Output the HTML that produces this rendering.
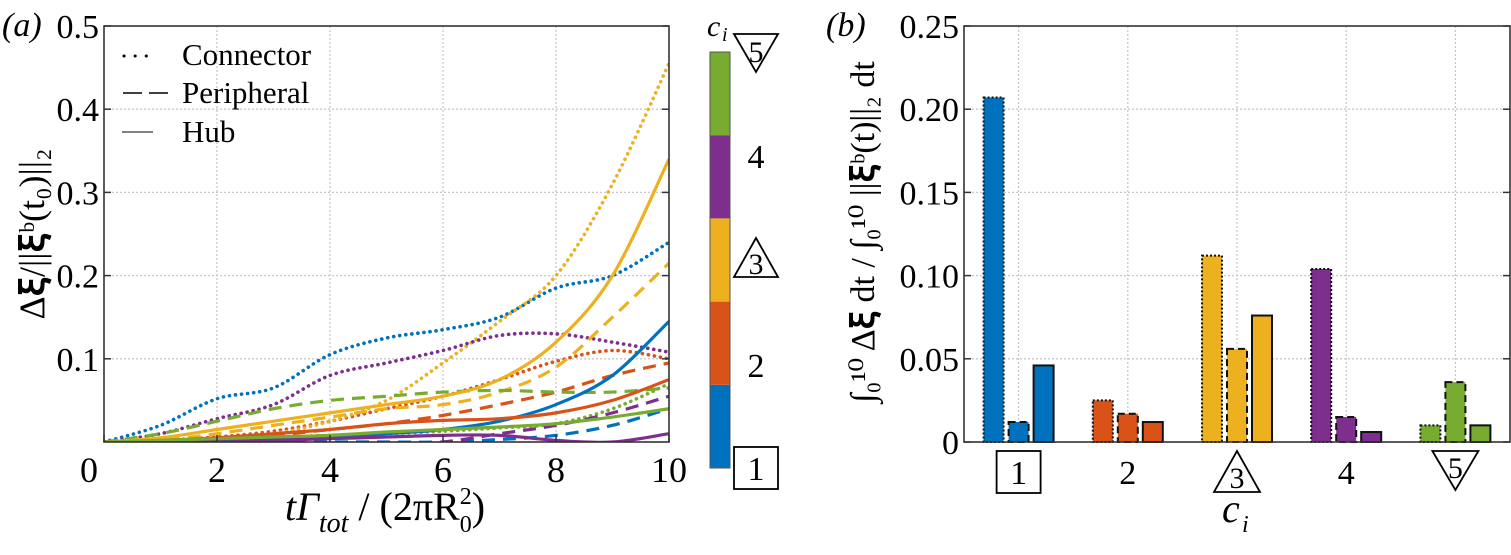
<!DOCTYPE html>
<html><head><meta charset="utf-8">
<style>
body{margin:0;background:#fff;}
svg{display:block;font-family:"Liberation Serif","Times New Roman","DejaVu Serif",serif;}
svg text, svg tspan{font-family:"Liberation Serif","Times New Roman","DejaVu Serif",serif !important;}
</style></head>
<body>
<svg id="fig" width="1511" height="555" viewBox="0 0 1511 555" xmlns="http://www.w3.org/2000/svg" font-family="Liberation Serif, serif">
<defs>
<clipPath id="clipA"><rect x="104" y="26" width="565" height="416"/></clipPath>
</defs>
<g id="panelA"></g>
<g id="panelB"></g>
</svg>
<script>
// ---------- Panel (a) data ----------
const tVals = [0,1,2,3,4,5,6,7,8,9,10];
const yTicksA = [0.1,0.2,0.3,0.4,0.5];
const yTickLabelsA = ["0.1","0.2","0.3","0.4","0.5"];
const xTicksA = [0,2,4,6,8,10];
const colors = ["#0072BD","#D95319","#EDB120","#7E2F8E","#77AC30"];
const connBlue   = [0,0.02,0.052,0.065,0.105,0.125,0.135,0.15,0.185,0.2,0.24];
const connOrange = [0,0.002,0.006,0.013,0.025,0.04,0.055,0.075,0.097,0.11,0.1];
const connYellow = [0,0.001,0.004,0.01,0.025,0.05,0.095,0.145,0.2,0.31,0.455];
const connPurple = [0,0.01,0.028,0.045,0.08,0.095,0.11,0.128,0.13,0.12,0.108];
const connGreen  = [0,0,0.002,0.005,0.008,0.01,0.013,0.017,0.022,0.04,0.07];
const periBlue   = [0,0,0,0,0,0,0,0.003,0.008,0.02,0.04];
const periOrange = [0,0,0.003,0.008,0.015,0.022,0.032,0.045,0.06,0.08,0.095];
const periYellow = [0,0.002,0.01,0.02,0.03,0.04,0.045,0.06,0.09,0.15,0.215];
const periPurple = [0,0,0,0,-0.002,-0.003,0,0.01,0.02,0.035,0.055];
const periGreen  = [0,0.01,0.025,0.04,0.05,0.055,0.06,0.062,0.06,0.06,0.065];
const hubBlue    = [0,0,0.002,0.004,0.006,0.01,0.015,0.025,0.045,0.08,0.145];
const hubOrange  = [0,0.002,0.005,0.01,0.015,0.022,0.026,0.028,0.035,0.05,0.075];
const hubYellow  = [0,0.005,0.015,0.025,0.035,0.045,0.055,0.075,0.12,0.2,0.34];
const hubPurple  = [0,0,0,0.002,0.004,0.006,0.008,0.008,0.002,0,0.01];
const hubGreen   = [0,0.002,0.004,0.006,0.008,0.012,0.015,0.018,0.022,0.03,0.04];
// ---------- Panel (b) data ----------
const categories = [1,2,3,4,5];
const barConnector  = [0.207,0.025,0.112,0.104,0.010];
const barPeripheral = [0.012,0.017,0.056,0.015,0.036];
const barHub        = [0.046,0.012,0.076,0.006,0.010];
const yTicksB = [0,0.05,0.10,0.15,0.20,0.25];
const yTickLabelsB = ["0","0.05","0.10","0.15","0.20","0.25"];

const NS="http://www.w3.org/2000/svg";
const FONT='"Liberation Serif", "Times New Roman", "DejaVu Serif", serif';
function mk(parent,tag,attrs,text){const e=document.createElementNS(NS,tag);for(const k in attrs)e.setAttribute(k,attrs[k]);
 if(tag==='text'){e.style.fontFamily=FONT;}
 if(text!==undefined)e.textContent=text;parent.appendChild(e);return e;}

const AX={x0:104,x1:669,y0:442,y1:26};
const xA=t=>AX.x0+(t/10)*(AX.x1-AX.x0);
const yA=v=>AX.y0-(v/0.5)*(AX.y0-AX.y1);
const BX={x0:964,x1:1510,y0:442,y1:26};
const xB=c=>BX.x0+((c-0.5)/5)*(BX.x1-BX.x0);
const yB=v=>BX.y0-(v/0.25)*(BX.y0-BX.y1);

const A=document.getElementById('panelA');
xTicksA.slice(1,-1).forEach(t=>{const l=mk(A,'line',{x1:xA(t),x2:xA(t),y1:AX.y1,y2:AX.y0,stroke:'#c8c8c8','stroke-width':1.3,'stroke-dasharray':'2 2'});

});
yTicksA.slice(0,-1).forEach(v=>{const l=mk(A,'line',{x1:AX.x0,x2:AX.x1,y1:yA(v),y2:yA(v),stroke:'#c8c8c8','stroke-width':1.3,'stroke-dasharray':'2 2'});

});
const series=[
 [connBlue,0,'c'],[connOrange,1,'c'],[connYellow,2,'c'],[connPurple,3,'c'],[connGreen,4,'c'],
 [periBlue,0,'p'],[periOrange,1,'p'],[periYellow,2,'p'],[periPurple,3,'p'],[periGreen,4,'p'],
 [hubBlue,0,'h'],[hubOrange,1,'h'],[hubYellow,2,'h'],[hubPurple,3,'h'],[hubGreen,4,'h']];
function smoothPath(pts){let d=`M${pts[0][0]},${pts[0][1]}`;for(let i=0;i<pts.length-1;i++){const p0=pts[i-1]||pts[i],p1=pts[i],p2=pts[i+1],p3=pts[i+2]||p2;
const c1=[p1[0]+(p2[0]-p0[0])/6,p1[1]+(p2[1]-p0[1])/6],c2=[p2[0]-(p3[0]-p1[0])/6,p2[1]-(p3[1]-p1[1])/6];d+=` C${c1[0]},${c1[1]} ${c2[0]},${c2[1]} ${p2[0]},${p2[1]}`;}return d;}
const gl=mk(A,'g',{'clip-path':'url(#clipA)'});
series.forEach(([vals,ci,kind])=>{
 const pts=vals.map((v,i)=>[xA(tVals[i]),yA(v)]);
 const at={d:smoothPath(pts),fill:'none',stroke:colors[ci],'stroke-width':3.2};
 if(kind==='c'){at['stroke-dasharray']='0.1 6';at['stroke-linecap']='round';at['stroke-width']=3.6;}
 if(kind==='p'){at['stroke-dasharray']='13 8';}
 const p=mk(gl,'path',at);
 
 
});
mk(A,'rect',{x:AX.x0,y:AX.y1,width:AX.x1-AX.x0,height:AX.y0-AX.y1,fill:'none',stroke:'#333','stroke-width':1.6,});
yTicksA.forEach((v,i)=>{mk(A,'line',{x1:AX.x0,x2:AX.x0+7,y1:yA(v),y2:yA(v),stroke:'#333','stroke-width':1.5});mk(A,'line',{x1:AX.x1,x2:AX.x1-7,y1:yA(v),y2:yA(v),stroke:'#333','stroke-width':1.5});
 const t=mk(A,'text',{x:AX.x0-5,y:yA(v)+12,'font-size':34,'text-anchor':'end'},yTickLabelsA[i]);
 
 });
xTicksA.forEach(tv=>{mk(A,'line',{x1:xA(tv),x2:xA(tv),y1:AX.y0,y2:AX.y0-7,stroke:'#333','stroke-width':1.5});
 const t=mk(A,'text',{x:xA(tv)-(tv===0?15:0),y:482,'font-size':36,'text-anchor':'middle'},String(tv));
 
 });
mk(A,'text',{x:2,y:36,'font-size':34,'font-style':'italic',},'(a)');
const lg=mk(A,'g',{});
mk(lg,'line',{x1:124,x2:157,y1:56,y2:56,stroke:'#000','stroke-width':3,'stroke-dasharray':'0.1 11','stroke-linecap':'round'});
mk(lg,'text',{x:182,y:65,'font-size':31},'Connector');
mk(lg,'line',{x1:123,x2:168,y1:93,y2:93,stroke:'#000','stroke-width':1.6,'stroke-dasharray':'19 7'});
mk(lg,'text',{x:182,y:103,'font-size':31},'Peripheral');
mk(lg,'line',{x1:122,x2:153,y1:132,y2:132,stroke:'#000','stroke-width':1});
mk(lg,'text',{x:182,y:142,'font-size':31},'Hub');
mk(A,'text',{transform:'translate(44,234) rotate(-90)','font-size':36,'text-anchor':'middle',},'Δ𝛏/||𝛏\u1D47(t₀)||₂');
const xt=mk(A,'text',{x:385,y:520,'font-size':40,'text-anchor':'middle',});
xt.innerHTML='<tspan font-style="italic">tΓ</tspan><tspan font-style="italic" font-size="28" dy="12">tot</tspan><tspan dy="-12"> / (2πR</tspan><tspan font-size="24" dy="-16">2</tspan><tspan font-size="24" dx="-12" dy="28">0</tspan><tspan dy="-12">)</tspan>';
const cb=mk(A,'g',{});
const cbTop=52,cbBot=468,seg=(cbBot-cbTop)/5;
for(let i=0;i<5;i++){mk(cb,'rect',{x:710,y:cbBot-(i+1)*seg,width:20,height:seg,fill:colors[i]});}
mk(cb,'rect',{x:710,y:cbTop,width:20,height:cbBot-cbTop,fill:'none',stroke:'#555','stroke-width':1});
mk(cb,'text',{x:707,y:36,'font-size':30,'font-style':'italic'},'c');
mk(cb,'text',{x:722,y:41,'font-size':20,'font-style':'italic'},'i');
mk(cb,'polygon',{points:'734,34 778,34 756,72',fill:'none',stroke:'#000','stroke-width':1.8});
mk(cb,'text',{x:756,y:62,'font-size':30,'text-anchor':'middle'},'5');
mk(cb,'text',{x:756,y:168,'font-size':34,'text-anchor':'middle'},'4');
mk(cb,'polygon',{points:'734,277 778,277 756,238',fill:'none',stroke:'#000','stroke-width':1.8});
mk(cb,'text',{x:756,y:274,'font-size':30,'text-anchor':'middle'},'3');
mk(cb,'text',{x:756,y:377,'font-size':34,'text-anchor':'middle'},'2');
mk(cb,'rect',{x:734,y:447,width:44,height:42,fill:'#fff',stroke:'#000','stroke-width':1.8});
mk(cb,'text',{x:756,y:480,'font-size':34,'text-anchor':'middle'},'1');

const B=document.getElementById('panelB');
categories.forEach(c=>{const l=mk(B,'line',{x1:xB(c),x2:xB(c),y1:BX.y1,y2:BX.y0,stroke:'#c8c8c8','stroke-width':1.3,'stroke-dasharray':'2 2'});

});
yTicksB.slice(1,-1).forEach(v=>{const l=mk(B,'line',{x1:BX.x0,x2:BX.x1,y1:yB(v),y2:yB(v),stroke:'#c8c8c8','stroke-width':1.3,'stroke-dasharray':'2 2'});

});
const bw=20,off=25;
[[barConnector,-off,'2 2','connector'],[barPeripheral,0,'7 4','peripheral'],[barHub,off,'','hub']].forEach(([vals,dx,dash,nm])=>{
 vals.forEach((v,i)=>{const x=xB(categories[i])+dx-bw/2;
  const at={x:x,y:yB(v),width:bw,height:yB(0)-yB(v),fill:colors[i],stroke:'#111','stroke-width':2};
  if(dash)at['stroke-dasharray']=dash;
  const r=mk(B,'rect',at);
  
  });
});
mk(B,'rect',{x:BX.x0,y:BX.y1,width:BX.x1-BX.x0,height:BX.y0-BX.y1,fill:'none',stroke:'#333','stroke-width':1.6,});
yTicksB.forEach((v,i)=>{mk(B,'line',{x1:BX.x0,x2:BX.x0+7,y1:yB(v),y2:yB(v),stroke:'#333','stroke-width':1.5});mk(B,'line',{x1:BX.x1,x2:BX.x1-7,y1:yB(v),y2:yB(v),stroke:'#333','stroke-width':1.5});
 const t=mk(B,'text',{x:BX.x0-5,y:yB(v)+12,'font-size':34,'text-anchor':'end'},yTickLabelsB[i]);
 
 });
categories.forEach(c=>{const x=xB(c);
 if(c===1)mk(B,'rect',{x:x-22,y:451,width:44,height:42,fill:'none',stroke:'#000','stroke-width':1.8});
 if(c===3)mk(B,'polygon',{points:`${x-23},492 ${x+23},492 ${x},451`,fill:'none',stroke:'#000','stroke-width':1.8});
 if(c===5)mk(B,'polygon',{points:`${x-23},451 ${x+23},451 ${x},490`,fill:'none',stroke:'#000','stroke-width':1.8});
 const t=mk(B,'text',{x:x,y:(c===3?488:c===5?478:484),'font-size':(c===3||c===5)?30:34,'text-anchor':'middle'},String(c));
 
 });
mk(B,'text',{x:826,y:36,'font-size':34,'font-style':'italic',},'(b)');
mk(B,'text',{x:1222,y:522,'font-size':40,'font-style':'italic',},'c');
mk(B,'text',{x:1242,y:532,'font-size':24,'font-style':'italic'},'i');
mk(B,'text',{transform:'translate(874,232) rotate(-90)','font-size':34,'text-anchor':'middle',},'∫₀¹⁰ Δ𝛏 dt / ∫₀¹⁰ ||𝛏\u1D47(t)||₂ dt');
</script>
</body></html>
